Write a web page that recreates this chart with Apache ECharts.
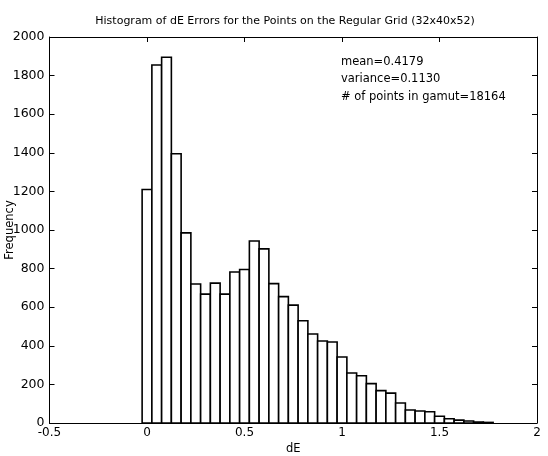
<!DOCTYPE html>
<html>
<head>
<meta charset="utf-8">
<script src="https://cdn.jsdelivr.net/npm/echarts@6/dist/echarts.min.js"></script>
<style>html,body{margin:0;padding:0;background:#fff}#c{width:548px;height:456px}</style>
</head>
<body>
<div id="c"></div>
<script>
const binCenters = [0,0.05,0.1,0.15,0.2,0.25,0.3,0.35,0.4,0.45,0.5,0.55,0.6,0.65,0.7,0.75,0.8,0.85,0.9,0.95,1.0,1.05,1.1,1.15,1.2,1.25,1.3,1.35,1.4,1.45,1.5,1.55,1.6,1.65,1.7,1.75];
const frequency  = [1210,1855,1895,1395,985,720,668,725,668,782,795,943,902,722,655,611,530,461,425,420,342,259,245,204,168,155,104,67,62,58,35,22,15,10,5,3];
const binWidth = 0.05;
const xTicks = [-0.5,0,0.5,1,1.5,2];
const yTicks = [0,200,400,600,800,1000,1200,1400,1600,1800,2000];
const titleText = 'Histogram of dE Errors for the Points on the Regular Grid (32x40x52)';
const statsLines = ['mean=0.4179','variance=0.1130','# of points in gamut=18164'];

const font = 'DejaVu Sans, Liberation Sans, Arial, sans-serif';
const chart = echarts.init(document.getElementById('c'), null, {renderer:'canvas'});
const data = binCenters.map((x,i)=>[x, frequency[i]]);
function axisCommon(){
  return {
    axisLine:{show:true,onZero:false,lineStyle:{color:'#000',width:1}},
    axisTick:{show:true,inside:true,length:5,lineStyle:{color:'#000'}},
    splitLine:{show:false}
  };
}
chart.setOption({
  animation:false,
  backgroundColor:'#fff',
  title:{text:titleText,left:280,textAlign:'center',top:11,
    textStyle:{fontFamily:font,fontSize:11,fontWeight:'normal',color:'#000'}},
  grid:{left:49.5,right:11,top:37,bottom:33,show:false,containLabel:false,outerBoundsMode:'none'},
  xAxis:[
    Object.assign({type:'value',min:xTicks[0],max:xTicks[xTicks.length-1],interval:0.5,position:'bottom',
      name:'dE',nameLocation:'middle',nameGap:20,nameMoveOverlap:false,
      nameTextStyle:{fontFamily:font,fontSize:11.5,color:'#000'},
      axisLabel:{fontFamily:font,fontSize:12,color:'#000',margin:4,formatter:v=>String(v)}},axisCommon()),
    Object.assign({type:'value',min:xTicks[0],max:xTicks[xTicks.length-1],interval:0.5,position:'top',
      axisLabel:{show:false}},axisCommon())
  ],
  yAxis:[
    Object.assign({type:'value',min:yTicks[0],max:yTicks[yTicks.length-1],interval:200,position:'left',
      name:'Frequency',nameLocation:'middle',nameGap:33,nameMoveOverlap:false,
      nameTextStyle:{fontFamily:font,fontSize:11.5,color:'#000'},
      axisLabel:{fontFamily:font,fontSize:12.5,color:'#000',margin:5,formatter:v=>String(v)}},axisCommon()),
    Object.assign({type:'value',min:yTicks[0],max:yTicks[yTicks.length-1],interval:200,position:'right',
      axisLabel:{show:false}},axisCommon())
  ],
  graphic: statsLines.map((t,i)=>({type:'text',left:341,top:56+i*17.5,
    style:{text:t,fontFamily:font,fontSize:11.5,fill:'#000'}})),
  series:[{
    type:'custom',
    xAxisIndex:0,yAxisIndex:0,
    data:data,
    renderItem:function(params,api){
      const x=api.value(0), y=api.value(1);
      const p1=api.coord([x-binWidth/2,y]);
      const p2=api.coord([x+binWidth/2,0]);
      return {type:'rect',shape:{x:p1[0],y:p1[1],width:p2[0]-p1[0],height:p2[1]-p1[1]},
        style:{fill:'#fff',stroke:'#000',lineWidth:1.6}};
    }
  }]
});
</script>
</body>
</html>
